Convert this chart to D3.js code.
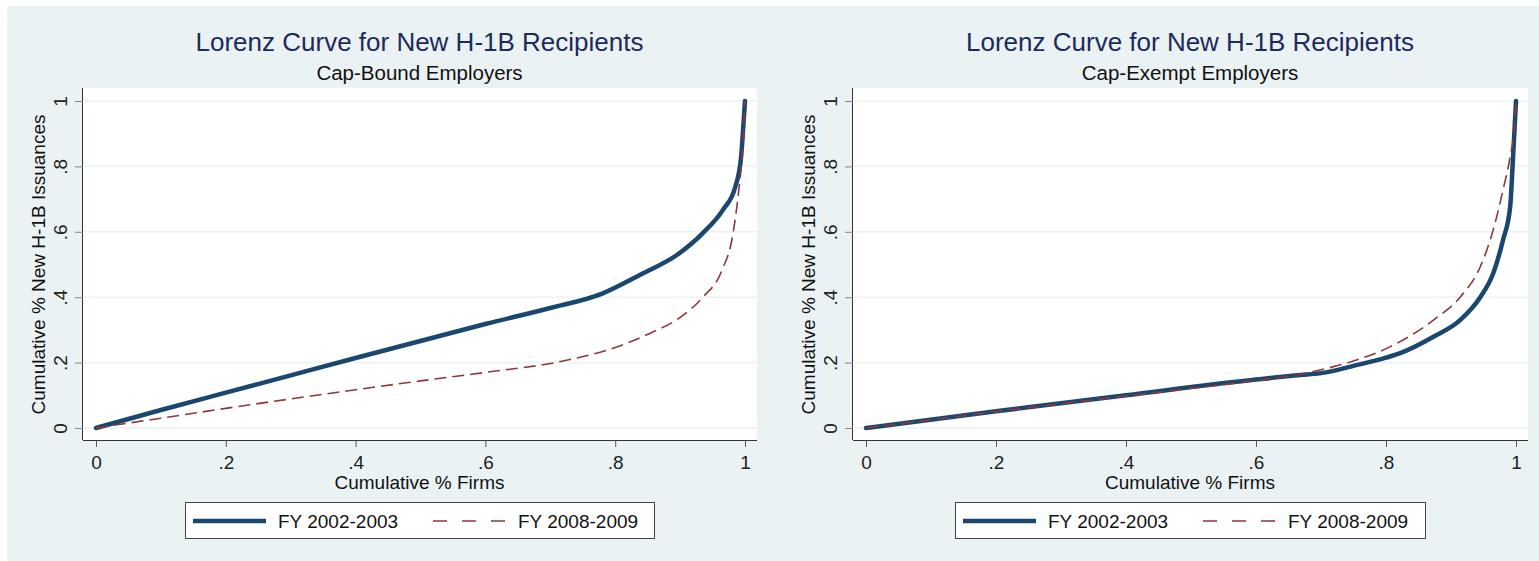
<!DOCTYPE html>
<html>
<head>
<meta charset="utf-8">
<script src="https://cdn.jsdelivr.net/npm/d3@7/dist/d3.min.js"></script>
<style>
  html, body { margin: 0; padding: 0; background: #ffffff; }
  svg { display: block; font-family: "Liberation Sans", Arial, sans-serif; }
</style>
</head>
<body>
<svg id="chart" width="1539" height="561"></svg>
<script>
// curvas de Lorenz (x = % acumulado de firmas, y = % acumulado de H-1B)
const panelTitles = ['Lorenz Curve for New H-1B Recipients', 'Lorenz Curve for New H-1B Recipients'];
const panelSubtitles = ['Cap-Bound Employers', 'Cap-Exempt Employers'];
const seriesLabels = ['FY 2002-2003', 'FY 2008-2009'];
const tickValues = [0, 0.2, 0.4, 0.6, 0.8, 1];
const tickLabels = ['0', '.2', '.4', '.6', '.8', '1'];

const boundX0203 = [0, 0.1, 0.2, 0.3, 0.4, 0.5, 0.6, 0.7, 0.78, 0.84, 0.895, 0.935, 0.966, 0.985, 0.994, 0.997, 1];
const boundY0203 = [0, 0.055, 0.108, 0.161, 0.214, 0.266, 0.318, 0.367, 0.411, 0.47, 0.529, 0.596, 0.667, 0.737, 0.829, 0.91, 1];
const boundX0809 = [0, 0.1, 0.2, 0.3, 0.4, 0.5, 0.6, 0.72, 0.8, 0.854, 0.897, 0.935, 0.964, 0.982, 0.99, 0.995, 0.999, 1];
const boundY0809 = [0, 0.03, 0.06, 0.089, 0.117, 0.144, 0.17, 0.205, 0.246, 0.29, 0.334, 0.4, 0.48, 0.6, 0.72, 0.82, 0.947, 1];

const exemptX0203 = [0, 0.2, 0.4, 0.6, 0.668, 0.698, 0.75, 0.8, 0.822, 0.873, 0.914, 0.945, 0.965, 0.98, 0.991, 0.995, 1];
const exemptY0203 = [0, 0.051, 0.1, 0.148, 0.162, 0.167, 0.19, 0.215, 0.229, 0.279, 0.33, 0.4, 0.473, 0.575, 0.676, 0.81, 1];
const exemptX0809 = [0, 0.2, 0.4, 0.6, 0.65, 0.7, 0.75, 0.806, 0.873, 0.914, 0.945, 0.965, 0.98, 0.991, 0.998, 1];
const exemptY0809 = [0, 0.05, 0.098, 0.145, 0.158, 0.178, 0.205, 0.248, 0.33, 0.4, 0.493, 0.606, 0.728, 0.83, 0.93, 1];

const panels = [
  { x02: boundX0203, y02: boundY0203, x08: boundX0809, y08: boundY0809 },
  { x02: exemptX0203, y02: exemptY0203, x08: exemptX0809, y08: exemptY0809 },
];

const NAVY = '#1a476f';
const MAROON = '#90353b';
const BG = '#eaf2f3';
const FONT = '"Liberation Sans", Arial, sans-serif';

const svg = d3.select('#chart');
svg.append('rect').attr('x', 7).attr('y', 6).attr('width', 1532).attr('height', 555).attr('fill', BG);

const zip = (xs, ys) => xs.map((x, i) => [x, ys[i]]);

panels.forEach((p, i) => {
  const g = svg.append('g').attr('transform', `translate(${770 * i},0)`);
  const plot = { left: 83, right: 757 + i, top: 88, bottom: 440 };

  const x = d3.scaleLinear().domain([0, 1]).range([96, 745 + i]);
  const y = d3.scaleLinear().domain([0, 1]).range([428, 101]);

  g.append('rect')
    .attr('x', plot.left).attr('y', plot.top)
    .attr('width', plot.right - plot.left).attr('height', plot.bottom - plot.top)
    .attr('fill', '#ffffff');

  // grade horizontal
  g.append('g').selectAll('line').data(tickValues).join('line')
    .attr('x1', plot.left).attr('x2', plot.right)
    .attr('y1', (d) => y(d)).attr('y2', (d) => y(d))
    .attr('stroke', BG).attr('stroke-width', 1.6);

  // eixos
  const xAxis = g.append('g').attr('transform', `translate(0,${plot.bottom})`)
    .call(d3.axisBottom(x).tickValues(tickValues).tickFormat((d, k) => tickLabels[k]).tickSize(7).tickSizeOuter(0));
  xAxis.select('.domain').attr('d', `M${plot.left},0.5H${plot.right}`).attr('stroke', '#333');
  xAxis.selectAll('.tick line').attr('stroke', '#555');
  xAxis.selectAll('.tick text').attr('dy', 0).attr('y', 29)
    .attr('font-size', 19).attr('fill', '#222').attr('font-family', FONT);

  const yAxis = g.append('g').attr('transform', `translate(${plot.left},0)`)
    .call(d3.axisLeft(y).tickValues(tickValues).tickFormat((d, k) => tickLabels[k]).tickSize(8).tickSizeOuter(0));
  yAxis.select('.domain').attr('d', `M-0.5,${plot.top}V${plot.bottom}`).attr('stroke', '#333');
  yAxis.selectAll('.tick line').attr('stroke', '#888');
  yAxis.selectAll('.tick text')
    .attr('x', 0).attr('dy', 0).attr('y', 0)
    .attr('transform', 'translate(-16,0) rotate(-90)')
    .attr('text-anchor', 'middle')
    .attr('font-size', 19).attr('fill', '#222').attr('font-family', FONT);

  // curvas
  const line = d3.line().x((d) => x(d[0])).y((d) => y(d[1])).curve(d3.curveMonotoneX);
  g.append('path').datum(zip(p.x02, p.y02))
    .attr('d', line).attr('fill', 'none')
    .attr('stroke', NAVY).attr('stroke-width', 4.5).attr('stroke-linejoin', 'round').attr('stroke-linecap', 'round');
  g.append('path').datum(zip(p.x08, p.y08))
    .attr('d', line).attr('fill', 'none')
    .attr('stroke', MAROON).attr('stroke-width', 1.6).attr('stroke-dasharray', '12,6');

  // títulos
  const cx = (x(0) + x(1)) / 2 - 1;
  g.append('text').attr('x', cx).attr('y', 51).attr('text-anchor', 'middle')
    .attr('font-size', 26).attr('fill', '#1c2b5c').text(panelTitles[i]);
  g.append('text').attr('x', cx).attr('y', 80).attr('text-anchor', 'middle')
    .attr('font-size', 20.5).attr('fill', '#111').text(panelSubtitles[i]);
  g.append('text').attr('x', cx).attr('y', 489).attr('text-anchor', 'middle')
    .attr('font-size', 19).attr('fill', '#111').text('Cumulative % Firms');
  g.append('text').attr('transform', `translate(45,${y(0.5)}) rotate(-90)`).attr('text-anchor', 'middle')
    .attr('font-size', 19).attr('fill', '#111').text('Cumulative % New H-1B Issuances');

  // legenda
  const lg = g.append('g').attr('transform', 'translate(185,502)');
  lg.append('rect').attr('x', 0.5).attr('y', 0.5).attr('width', 469 + i).attr('height', 36)
    .attr('fill', '#ffffff').attr('stroke', '#444').attr('stroke-width', 1);
  lg.append('line').attr('x1', 8).attr('x2', 81).attr('y1', 19).attr('y2', 19)
    .attr('stroke', NAVY).attr('stroke-width', 4.5);
  lg.append('text').attr('x', 93).attr('y', 26).attr('font-size', 19).attr('fill', '#111').text(seriesLabels[0]);
  lg.append('line').attr('x1', 248).attr('x2', 320).attr('y1', 19).attr('y2', 19)
    .attr('stroke', MAROON).attr('stroke-width', 1.6).attr('stroke-dasharray', '14,15');
  lg.append('text').attr('x', 333).attr('y', 26).attr('font-size', 19).attr('fill', '#111').text(seriesLabels[1]);
});
</script>
</body>
</html>
